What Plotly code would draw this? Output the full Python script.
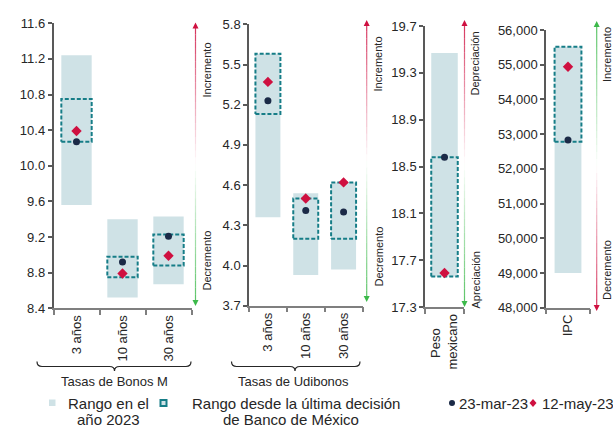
import plotly.graph_objects as go

W, H = 613, 429

# ---------------- data ----------------
bonos_cats = ["3 años", "10 años", "30 años"]
bonos_2023_lo = [9.56, 8.52, 8.67]
bonos_2023_hi = [11.24, 9.40, 9.43]
bonos_dec_lo = [10.27, 8.75, 8.88]
bonos_dec_hi = [10.75, 8.98, 9.23]
bonos_mar = [10.27, 8.92, 9.21]
bonos_may = [10.39, 8.79, 8.99]

udi_cats = ["3 años", "10 años", "30 años"]
udi_2023_lo = [4.36, 3.93, 3.97]
udi_2023_hi = [5.58, 4.54, 4.62]
udi_dec_lo = [5.13, 4.20, 4.20]
udi_dec_hi = [5.58, 4.50, 4.62]
udi_mar = [5.23, 4.41, 4.40]
udi_may = [5.37, 4.50, 4.62]

peso_cats = ["Peso\u00a0\u00a0\u00a0\u00a0<br>mexicano"]
peso_2023_lo = [17.56]
peso_2023_hi = [19.47]
peso_dec_lo = [17.56]
peso_dec_hi = [18.58]
peso_mar = [18.58]
peso_may = [17.59]

ipc_cats = ["IPC"]
ipc_2023_lo = [49000]
ipc_2023_hi = [55520]
ipc_dec_lo = [52780]
ipc_dec_hi = [55520]
ipc_mar = [52830]
ipc_may = [54940]

# ---------------- styles ----------------
FONT = "Liberation Sans, Arial, sans-serif"
TXT = "#262626"
LIGHT = "#cfe2e6"
TEAL = "#167d87"
NAVY = "#1b2a47"
RED = "#cf1040"
GREEN = "#3cb94a"
AX = "#7f7f7f"


def fx(x):
    return x / W


def fy(y):
    return 1 - y / H


panels = [
    dict(cats=bonos_cats, lo=bonos_2023_lo, hi=bonos_2023_hi, dlo=bonos_dec_lo, dhi=bonos_dec_hi,
         mar=bonos_mar, may=bonos_may, xd=(53.5, 191.5), yd=(308.3, 23.3), rng=(8.4, 11.6),
         dtick=0.4, fmt=".1f", w=0.66),
    dict(cats=udi_cats, lo=udi_2023_lo, hi=udi_2023_hi, dlo=udi_dec_lo, dhi=udi_dec_hi,
         mar=udi_mar, may=udi_may, xd=(249, 362.5), yd=(305.7, 24.3), rng=(3.7, 5.8),
         dtick=0.3, fmt=".1f", w=0.66),
    dict(cats=peso_cats, lo=peso_2023_lo, hi=peso_2023_hi, dlo=peso_dec_lo, dhi=peso_dec_hi,
         mar=peso_mar, may=peso_may, xd=(425, 464), yd=(307, 26), rng=(17.3, 19.7),
         dtick=0.4, fmt=".1f", w=0.68),
    dict(cats=ipc_cats, lo=ipc_2023_lo, hi=ipc_2023_hi, dlo=ipc_dec_lo, dhi=ipc_dec_hi,
         mar=ipc_mar, may=ipc_may, xd=(546, 590), yd=(307.7, 30), rng=(48000, 56000),
         dtick=1000, fmt=",", w=0.61),
]

fig = go.Figure()
layout = {}

for k, p in enumerate(panels):
    sfx = "" if k == 0 else str(k + 1)
    xa, ya = "x" + sfx, "y" + sfx
    n = len(p["cats"])
    xs = list(range(n))
    # range in 2023
    fig.add_trace(go.Bar(
        x=xs, y=[h - l for h, l in zip(p["hi"], p["lo"])], base=p["lo"], width=p["w"],
        marker=dict(color=LIGHT, line=dict(width=0)), xaxis=xa, yaxis=ya,
        showlegend=False, hoverinfo="skip"))
    # range since last decision (dashed box)
    bx, by = [], []
    for i in xs:
        a, b = i - p["w"] / 2, i + p["w"] / 2
        bx += [a, b, b, a, a, None]
        by += [p["dlo"][i], p["dlo"][i], p["dhi"][i], p["dhi"][i], p["dlo"][i], None]
    fig.add_trace(go.Scatter(
        x=bx, y=by, mode="lines", line=dict(color=TEAL, width=2, dash="4px,2px"),
        xaxis=xa, yaxis=ya, showlegend=False, hoverinfo="skip"))
    fig.add_trace(go.Scatter(
        x=xs, y=p["mar"], mode="markers", marker=dict(symbol="circle", size=7, color=NAVY),
        xaxis=xa, yaxis=ya, showlegend=False))
    fig.add_trace(go.Scatter(
        x=xs, y=p["may"], mode="markers", marker=dict(symbol="diamond", size=8, color=RED),
        xaxis=xa, yaxis=ya, showlegend=False))

    layout["xaxis" + sfx] = dict(
        domain=[fx(p["xd"][0]), fx(p["xd"][1])], anchor=ya, range=[-0.5, n - 0.5],
        tickmode="array", tickvals=xs, ticktext=p["cats"], tickangle=-90, ticks="",
        showline=True, linecolor=AX, linewidth=1.5, showgrid=False, zeroline=False,
        tickfont=dict(size=13, color=TXT, family=FONT), fixedrange=True, automargin=False,
        minor=dict(tickmode="array", tickvals=[j - 0.5 for j in range(n + 1)], ticks="outside",
                   ticklen=5, tickcolor=AX, tickwidth=1.5, showgrid=False),
    )
    layout["yaxis" + sfx] = dict(
        domain=[fy(p["yd"][0]), fy(p["yd"][1])], anchor=xa, range=list(p["rng"]),
        tick0=p["rng"][0], dtick=p["dtick"], tickformat=p["fmt"], ticks="outside", ticklen=4,
        tickcolor="#595959", tickwidth=1.5, showline=True, linecolor="#595959", linewidth=1.5,
        showgrid=False, zeroline=False, tickfont=dict(size=13, color=TXT, family=FONT),
        fixedrange=True, automargin=False,
    )

shapes = []
annotations = []


def hexrgb(h):
    h = h.lstrip("#")
    return tuple(int(h[i:i + 2], 16) for i in (0, 2, 4))


def arrow(x, ytop, ybot, ctop, cbot):
    nseg = 40
    rt, rb = hexrgb(ctop), hexrgb(cbot)
    for s in range(nseg):
        y0 = ytop + 5 + (ybot - ytop - 10) * s / nseg
        y1 = ytop + 5 + (ybot - ytop - 10) * (s + 1) / nseg
        t = (s + 0.5) / nseg
        if t < 0.5:
            a = (1 - t / 0.5) * 0.85
            c = rt
        else:
            a = ((t - 0.5) / 0.5) * 0.85
            c = rb
        shapes.append(dict(type="line", xref="paper", yref="paper", x0=fx(x), x1=fx(x),
                           y0=fy(y0), y1=fy(y1),
                           line=dict(color=f"rgba({c[0]},{c[1]},{c[2]},{a:.3f})", width=1.2)))
    # arrowheads
    shapes.append(dict(type="path", xref="paper", yref="paper", fillcolor=ctop, line=dict(width=0),
                       path=f"M {fx(x - 3)} {fy(ytop + 6)} L {fx(x + 3)} {fy(ytop + 6)} L {fx(x)} {fy(ytop)} Z"))
    shapes.append(dict(type="path", xref="paper", yref="paper", fillcolor=cbot, line=dict(width=0),
                       path=f"M {fx(x - 3)} {fy(ybot - 6)} L {fx(x + 3)} {fy(ybot - 6)} L {fx(x)} {fy(ybot)} Z"))


arrow(195.5, 22.5, 306, RED, GREEN)
arrow(366.7, 20, 302, RED, GREEN)
arrow(464.5, 20, 307, RED, GREEN)
arrow(596.7, 21, 311, GREEN, RED)


def vlabel(text, x, y):
    annotations.append(dict(text=text, x=fx(x), y=fy(y), xref="paper", yref="paper",
                            showarrow=False, textangle=-90, xanchor="center", yanchor="middle",
                            font=dict(size=11, color=TXT, family=FONT)))


vlabel("Incremento", 206.5, 70)
vlabel("Decremento", 206.5, 261)
vlabel("Incremento", 377.5, 64)
vlabel("Decremento", 378.5, 257)
vlabel("Depreciación", 474.5, 64)
vlabel("Apreciación", 475.5, 280)
vlabel("Incremento", 607, 55)
vlabel("Decremento", 607, 270)


# group braces
def brace(x0, x1, xm, ytop=361.5, ymid=366.5, ytip=371):
    r = 5
    pts = (f"M {fx(x0)} {fy(ytop)} Q {fx(x0)} {fy(ymid)} {fx(x0 + r)} {fy(ymid)} "
           f"L {fx(xm - r)} {fy(ymid)} Q {fx(xm)} {fy(ymid)} {fx(xm)} {fy(ytip)} "
           f"Q {fx(xm)} {fy(ymid)} {fx(xm + r)} {fy(ymid)} "
           f"L {fx(x1 - r)} {fy(ymid)} Q {fx(x1)} {fy(ymid)} {fx(x1)} {fy(ytop)}")
    shapes.append(dict(type="path", xref="paper", yref="paper", path=pts,
                       line=dict(color="#262626", width=1.2)))


brace(37, 191, 114.5)
brace(231.5, 360, 295)


def text(t, x, y, size=13, xanchor="center"):
    annotations.append(dict(text=t, x=fx(x), y=fy(y), xref="paper", yref="paper", showarrow=False,
                            xanchor=xanchor, yanchor="middle",
                            font=dict(size=size, color=TXT, family=FONT)))


text("Tasas de Bonos M", 114.5, 381.5)
text("Tasas de Udibonos", 293.5, 381.5)

# legend
shapes.append(dict(type="rect", xref="paper", yref="paper", x0=fx(49), x1=fx(55.5), y0=fy(406),
                   y1=fy(399.5), fillcolor=LIGHT, line=dict(width=0)))
shapes.append(dict(type="rect", xref="paper", yref="paper", x0=fx(160.5), x1=fx(166.5), y0=fy(406),
                   y1=fy(400), fillcolor=LIGHT, line=dict(color=TEAL, width=2)))
shapes.append(dict(type="circle", xref="paper", yref="paper", x0=fx(449), x1=fx(455), y0=fy(406),
                   y1=fy(400), fillcolor=NAVY, line=dict(width=0)))
shapes.append(dict(type="path", xref="paper", yref="paper", fillcolor=RED, line=dict(width=0),
                   path=f"M {fx(533)} {fy(399)} L {fx(536.5)} {fy(403)} L {fx(533)} {fy(407)} "
                        f"L {fx(529.5)} {fy(403)} Z"))
text("Rango en el", 108, 403, 15)
text("año 2023", 108, 419, 15)
text("Rango desde la última decisión", 296, 403, 15)
text("de Banco de México", 291, 419, 15)
text("23-mar-23", 457, 403, 15, "left")
text("12-may-23", 539.5, 403, 15, "left")

fig.update_layout(
    width=W, height=H, autosize=False, margin=dict(l=0, r=0, t=0, b=0, pad=0, autoexpand=False),
    paper_bgcolor="white", plot_bgcolor="white", showlegend=False,
    shapes=shapes, annotations=annotations, font=dict(family=FONT, color=TXT),
    **layout,
)

fig.write_html("out.html", config={"responsive": False, "displayModeBar": False},
               post_script="document.body.style.margin='0';document.body.style.padding='0';")
